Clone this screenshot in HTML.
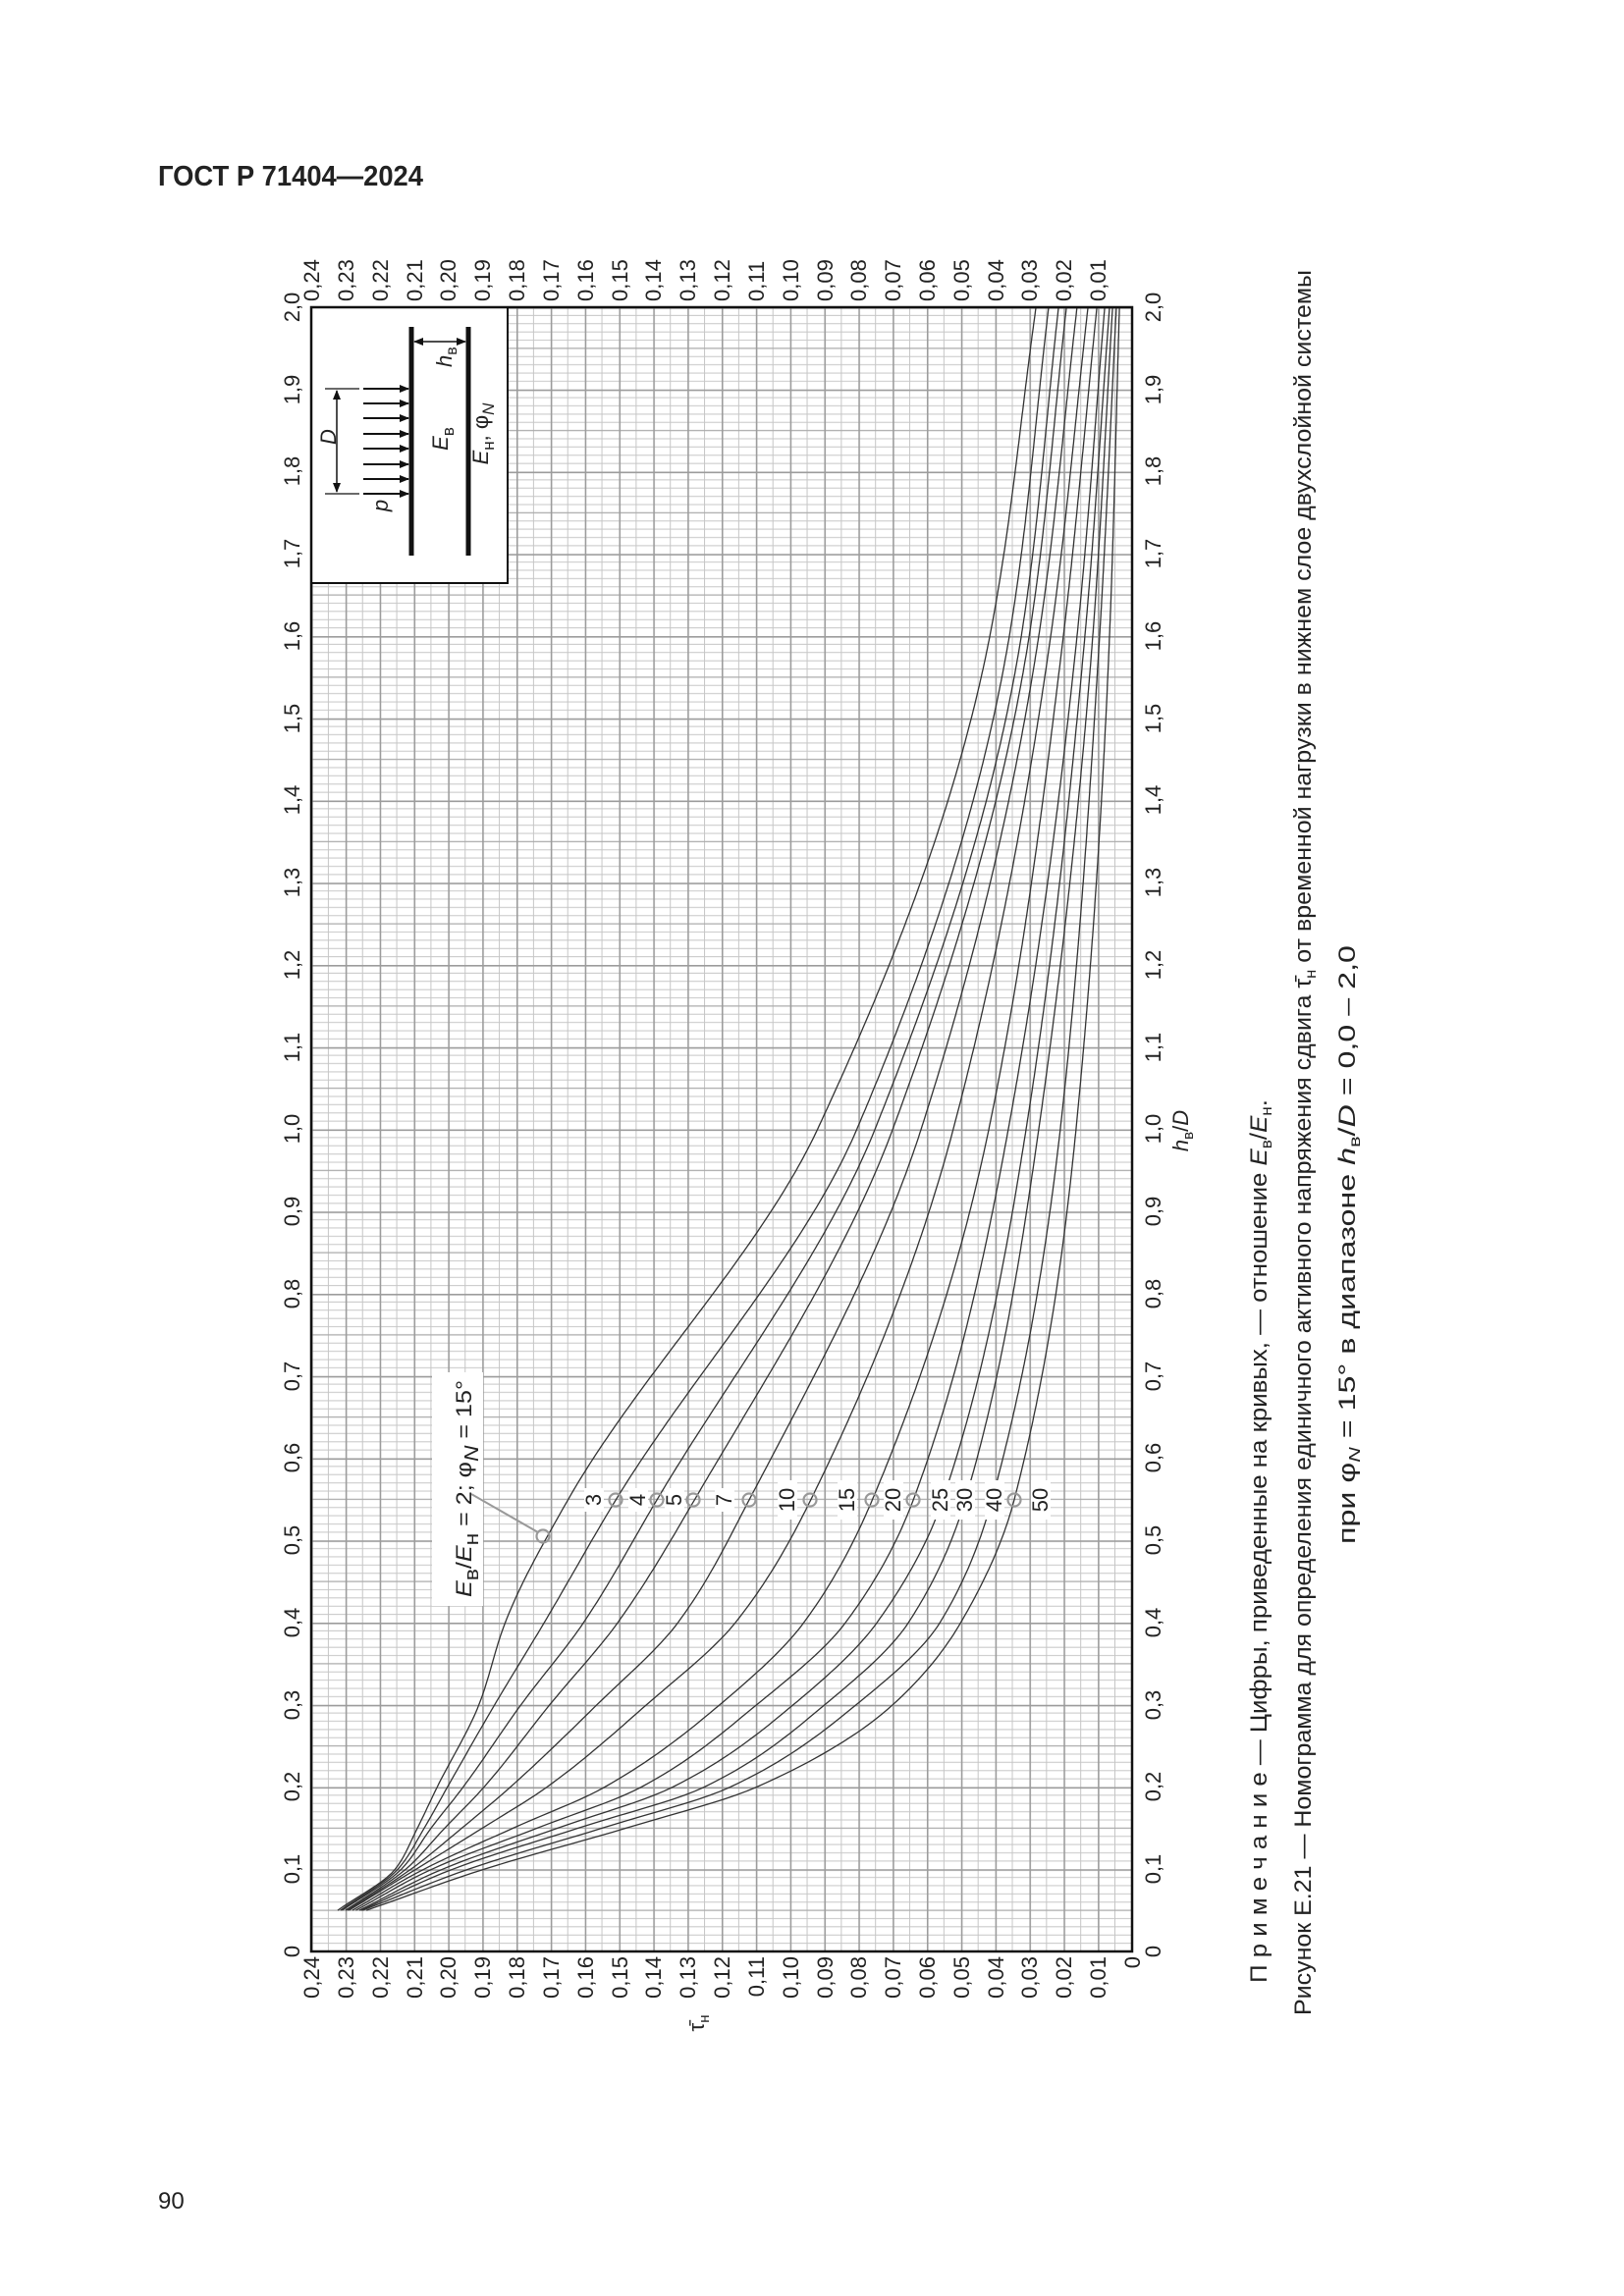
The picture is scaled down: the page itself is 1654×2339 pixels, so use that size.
<!DOCTYPE html>
<html><head><meta charset="utf-8">
<style>
html,body{margin:0;padding:0;background:#fff;}
svg{display:block;}
.t{font-family:"Liberation Sans",sans-serif;font-size:22px;fill:#222;}
.c{font-family:"Liberation Sans",sans-serif;font-size:24px;fill:#222;}
.i{font-style:italic;}
</style></head>
<body>
<svg id="s" width="1654" height="2339" viewBox="0 0 1654 2339" xmlns="http://www.w3.org/2000/svg">
<defs>
<pattern id="g" x="317" y="313" width="34.83" height="83.75" patternUnits="userSpaceOnUse">
<g stroke="#c6c6c6" stroke-width="1">
<line x1="0" y1="8.375" x2="34.83" y2="8.375"/><line x1="0" y1="16.75" x2="34.83" y2="16.75"/>
<line x1="0" y1="25.125" x2="34.83" y2="25.125"/><line x1="0" y1="33.5" x2="34.83" y2="33.5"/>
<line x1="0" y1="50.25" x2="34.83" y2="50.25"/><line x1="0" y1="58.625" x2="34.83" y2="58.625"/>
<line x1="0" y1="67" x2="34.83" y2="67"/><line x1="0" y1="75.375" x2="34.83" y2="75.375"/>
<line x1="17.415" y1="0" x2="17.415" y2="83.75"/>
</g>
<line x1="0" y1="41.875" x2="34.83" y2="41.875" stroke="#ababab" stroke-width="1.3"/>
<line x1="0.8" y1="0" x2="0.8" y2="83.75" stroke="#9c9c9c" stroke-width="1.6"/>
<line x1="0" y1="0.8" x2="34.83" y2="0.8" stroke="#9c9c9c" stroke-width="1.6"/>
</pattern>
<marker id="ah" markerWidth="10" markerHeight="8" refX="9" refY="4" orient="auto" markerUnits="userSpaceOnUse"><path d="M0,0 L10,4 L0,8 z" fill="#111"/></marker>
<marker id="ahs" markerWidth="10" markerHeight="8" refX="1" refY="4" orient="auto" markerUnits="userSpaceOnUse"><path d="M10,0 L0,4 L10,8 z" fill="#111"/></marker>
</defs>

<text x="161" y="189" font-family="Liberation Sans, sans-serif" font-weight="bold" font-size="29" fill="#222" textLength="270" lengthAdjust="spacingAndGlyphs">ГОСТ Р 71404—2024</text>

<rect x="317" y="313" width="836" height="1675" fill="url(#g)"/>
<g id="curves" fill="none" stroke="#333" stroke-width="1.3"></g>

<!-- inset -->
<rect x="317" y="313" width="200" height="281" fill="#fff" stroke="#111" stroke-width="2"/>
<line x1="419" y1="333" x2="419" y2="566" stroke="#111" stroke-width="5"/>
<line x1="477" y1="333" x2="477" y2="566" stroke="#111" stroke-width="5"/>
<line x1="422" y1="348" x2="474" y2="348" stroke="#111" stroke-width="1.5" marker-end="url(#ah)" marker-start="url(#ahs)"/>
<text class="t i" font-size="24" transform="translate(460,374) rotate(-90)">h<tspan font-style="normal" font-size="16" dy="5">в</tspan></text>
<line x1="331" y1="396" x2="366" y2="396" stroke="#111" stroke-width="1.2"/>
<line x1="331" y1="503" x2="366" y2="503" stroke="#111" stroke-width="1.2"/>
<line x1="343" y1="398" x2="343" y2="501" stroke="#111" stroke-width="1.5" marker-end="url(#ah)" marker-start="url(#ahs)"/>
<text class="t i" font-size="26" text-anchor="middle" transform="translate(342,445) rotate(-90)">D</text>
<g stroke="#111" stroke-width="2" marker-end="url(#ah)">
<line x1="370" y1="396" x2="416" y2="396"/><line x1="370" y1="411" x2="416" y2="411"/>
<line x1="370" y1="426" x2="416" y2="426"/><line x1="370" y1="442" x2="416" y2="442"/>
<line x1="370" y1="457" x2="416" y2="457"/><line x1="370" y1="473" x2="416" y2="473"/>
<line x1="370" y1="488" x2="416" y2="488"/><line x1="370" y1="503" x2="416" y2="503"/>
</g>
<text class="t i" font-size="24" text-anchor="middle" transform="translate(395,515) rotate(-90)">p</text>
<text class="t" font-size="26" text-anchor="middle" transform="translate(456,447) rotate(-90)"><tspan class="i">E</tspan><tspan font-size="17" dy="6">в</tspan></text>
<text class="t" font-size="26" text-anchor="middle" transform="translate(497,442) rotate(-90)"><tspan class="i">E</tspan><tspan font-size="17" dy="6">н</tspan><tspan dy="-6">, φ</tspan><tspan class="i" font-size="17" dy="6">N</tspan></text>

<!-- frame -->
<rect x="317" y="313" width="836" height="1675" fill="none" stroke="#111" stroke-width="2.5"/>

<!-- legend -->
<rect x="440" y="1398" width="52" height="238" fill="#fff"/>
<line x1="480" y1="1522" x2="548" y2="1561" stroke="#999" stroke-width="2"/>
<circle cx="553" cy="1565" r="6.5" fill="none" stroke="#999" stroke-width="2.2"/>
<text class="t" font-size="30" transform="translate(480,1627) rotate(-90)" textLength="221" lengthAdjust="spacingAndGlyphs"><tspan class="i">E</tspan><tspan font-size="20" dy="7">в</tspan><tspan dy="-7">/</tspan><tspan class="i">E</tspan><tspan font-size="20" dy="7">н</tspan><tspan dy="-7"> = 2; φ</tspan><tspan class="i" font-size="20" dy="7">N</tspan><tspan dy="-7"> = 15°</tspan></text>

<!-- curve labels -->
<g fill="#fff">
<rect x="595" y="1516" width="20" height="24"/><rect x="640" y="1516" width="20" height="24"/><rect x="677" y="1516" width="20" height="24"/>
<rect x="728" y="1516" width="20" height="24"/><rect x="792" y="1508" width="20" height="40"/><rect x="853" y="1508" width="20" height="40"/>
<rect x="900" y="1508" width="20" height="40"/><rect x="948" y="1508" width="20" height="40"/><rect x="973" y="1508" width="20" height="40"/>
<rect x="1003" y="1508" width="20" height="40"/><rect x="1050" y="1508" width="20" height="40"/>
</g>
<g fill="none" stroke="#999" stroke-width="2.2">
<circle cx="627" cy="1528" r="6.5"/><circle cx="669" cy="1528" r="6.5"/><circle cx="706" cy="1528" r="6.5"/>
<circle cx="763" cy="1528" r="6.5"/><circle cx="825" cy="1528" r="6.5"/><circle cx="888" cy="1528" r="6.5"/>
<circle cx="930" cy="1528" r="6.5"/><circle cx="1033" cy="1528" r="6.5"/>
</g>
<g class="t" font-size="20" text-anchor="middle">
<text transform="translate(612,1528) rotate(-90)">3</text>
<text transform="translate(657,1528) rotate(-90)">4</text>
<text transform="translate(694,1528) rotate(-90)">5</text>
<text transform="translate(745,1528) rotate(-90)">7</text>
<text transform="translate(809,1528) rotate(-90)">10</text>
<text transform="translate(870,1528) rotate(-90)">15</text>
<text transform="translate(917,1528) rotate(-90)">20</text>
<text transform="translate(965,1528) rotate(-90)">25</text>
<text transform="translate(990,1528) rotate(-90)">30</text>
<text transform="translate(1020,1528) rotate(-90)">40</text>
<text transform="translate(1067,1528) rotate(-90)">50</text>
</g>

<!-- top tau labels -->
<g class="t">
<text transform="translate(325,307) rotate(-90)">0,24</text>
<text transform="translate(360,307) rotate(-90)">0,23</text>
<text transform="translate(395,307) rotate(-90)">0,22</text>
<text transform="translate(430,307) rotate(-90)">0,21</text>
<text transform="translate(464,307) rotate(-90)">0,20</text>
<text transform="translate(499,307) rotate(-90)">0,19</text>
<text transform="translate(534,307) rotate(-90)">0,18</text>
<text transform="translate(569,307) rotate(-90)">0,17</text>
<text transform="translate(604,307) rotate(-90)">0,16</text>
<text transform="translate(639,307) rotate(-90)">0,15</text>
<text transform="translate(673,307) rotate(-90)">0,14</text>
<text transform="translate(708,307) rotate(-90)">0,13</text>
<text transform="translate(743,307) rotate(-90)">0,12</text>
<text transform="translate(778,307) rotate(-90)">0,11</text>
<text transform="translate(813,307) rotate(-90)">0,10</text>
<text transform="translate(848,307) rotate(-90)">0,09</text>
<text transform="translate(882,307) rotate(-90)">0,08</text>
<text transform="translate(917,307) rotate(-90)">0,07</text>
<text transform="translate(952,307) rotate(-90)">0,06</text>
<text transform="translate(987,307) rotate(-90)">0,05</text>
<text transform="translate(1022,307) rotate(-90)">0,04</text>
<text transform="translate(1056,307) rotate(-90)">0,03</text>
<text transform="translate(1091,307) rotate(-90)">0,02</text>
<text transform="translate(1126,307) rotate(-90)">0,01</text>
</g>
<!-- bottom tau labels -->
<g class="t" text-anchor="end">
<text transform="translate(325,1993) rotate(-90)">0,24</text>
<text transform="translate(360,1993) rotate(-90)">0,23</text>
<text transform="translate(395,1993) rotate(-90)">0,22</text>
<text transform="translate(430,1993) rotate(-90)">0,21</text>
<text transform="translate(464,1993) rotate(-90)">0,20</text>
<text transform="translate(499,1993) rotate(-90)">0,19</text>
<text transform="translate(534,1993) rotate(-90)">0,18</text>
<text transform="translate(569,1993) rotate(-90)">0,17</text>
<text transform="translate(604,1993) rotate(-90)">0,16</text>
<text transform="translate(639,1993) rotate(-90)">0,15</text>
<text transform="translate(673,1993) rotate(-90)">0,14</text>
<text transform="translate(708,1993) rotate(-90)">0,13</text>
<text transform="translate(743,1993) rotate(-90)">0,12</text>
<text transform="translate(778,1993) rotate(-90)">0,11</text>
<text transform="translate(813,1993) rotate(-90)">0,10</text>
<text transform="translate(848,1993) rotate(-90)">0,09</text>
<text transform="translate(882,1993) rotate(-90)">0,08</text>
<text transform="translate(917,1993) rotate(-90)">0,07</text>
<text transform="translate(952,1993) rotate(-90)">0,06</text>
<text transform="translate(987,1993) rotate(-90)">0,05</text>
<text transform="translate(1022,1993) rotate(-90)">0,04</text>
<text transform="translate(1056,1993) rotate(-90)">0,03</text>
<text transform="translate(1091,1993) rotate(-90)">0,02</text>
<text transform="translate(1126,1993) rotate(-90)">0,01</text>
<text transform="translate(1161,1993) rotate(-90)">0</text>
</g>
<!-- left h labels -->
<g class="t" text-anchor="middle">
<text transform="translate(305,1988) rotate(-90)">0</text>
<text transform="translate(305,1904) rotate(-90)">0,1</text>
<text transform="translate(305,1820) rotate(-90)">0,2</text>
<text transform="translate(305,1737) rotate(-90)">0,3</text>
<text transform="translate(305,1653) rotate(-90)">0,4</text>
<text transform="translate(305,1569) rotate(-90)">0,5</text>
<text transform="translate(305,1485) rotate(-90)">0,6</text>
<text transform="translate(305,1402) rotate(-90)">0,7</text>
<text transform="translate(305,1318) rotate(-90)">0,8</text>
<text transform="translate(305,1234) rotate(-90)">0,9</text>
<text transform="translate(305,1150) rotate(-90)">1,0</text>
<text transform="translate(305,1067) rotate(-90)">1,1</text>
<text transform="translate(305,983) rotate(-90)">1,2</text>
<text transform="translate(305,899) rotate(-90)">1,3</text>
<text transform="translate(305,815) rotate(-90)">1,4</text>
<text transform="translate(305,732) rotate(-90)">1,5</text>
<text transform="translate(305,648) rotate(-90)">1,6</text>
<text transform="translate(305,564) rotate(-90)">1,7</text>
<text transform="translate(305,480) rotate(-90)">1,8</text>
<text transform="translate(305,397) rotate(-90)">1,9</text>
<text transform="translate(305,313) rotate(-90)">2,0</text>
</g>
<!-- right h labels -->
<g class="t" text-anchor="middle">
<text transform="translate(1182,1988) rotate(-90)">0</text>
<text transform="translate(1182,1904) rotate(-90)">0,1</text>
<text transform="translate(1182,1820) rotate(-90)">0,2</text>
<text transform="translate(1182,1737) rotate(-90)">0,3</text>
<text transform="translate(1182,1653) rotate(-90)">0,4</text>
<text transform="translate(1182,1569) rotate(-90)">0,5</text>
<text transform="translate(1182,1485) rotate(-90)">0,6</text>
<text transform="translate(1182,1402) rotate(-90)">0,7</text>
<text transform="translate(1182,1318) rotate(-90)">0,8</text>
<text transform="translate(1182,1234) rotate(-90)">0,9</text>
<text transform="translate(1182,1150) rotate(-90)">1,0</text>
<text transform="translate(1182,1067) rotate(-90)">1,1</text>
<text transform="translate(1182,983) rotate(-90)">1,2</text>
<text transform="translate(1182,899) rotate(-90)">1,3</text>
<text transform="translate(1182,815) rotate(-90)">1,4</text>
<text transform="translate(1182,732) rotate(-90)">1,5</text>
<text transform="translate(1182,648) rotate(-90)">1,6</text>
<text transform="translate(1182,564) rotate(-90)">1,7</text>
<text transform="translate(1182,480) rotate(-90)">1,8</text>
<text transform="translate(1182,397) rotate(-90)">1,9</text>
<text transform="translate(1182,313) rotate(-90)">2,0</text>
</g>
<text class="t" text-anchor="middle" transform="translate(1210,1152) rotate(-90)"><tspan class="i">h</tspan><tspan font-size="15" dy="5">в</tspan><tspan dy="-5">/</tspan><tspan class="i">D</tspan></text>
<text class="t" text-anchor="middle" transform="translate(717,2061) rotate(-90)">τ̄<tspan font-size="15" dy="5">н</tspan></text>

<!-- captions -->
<text class="c" transform="translate(1290,2020) rotate(-90)" textLength="900" lengthAdjust="spacingAndGlyphs">П р и м е ч а н и е — Цифры, приведенные на кривых, — отношение <tspan class="i">E</tspan><tspan font-size="16" dy="5">в</tspan><tspan dy="-5">/</tspan><tspan class="i">E</tspan><tspan font-size="16" dy="5">н</tspan><tspan dy="-5">.</tspan></text>
<text class="c" transform="translate(1335,2053) rotate(-90)" textLength="1778" lengthAdjust="spacingAndGlyphs">Рисунок Е.21 — Номограмма для определения единичного активного напряжения сдвига τ̄<tspan font-size="16" dy="5">н</tspan><tspan dy="-5"> от временной нагрузки в нижнем слое двухслойной системы</tspan></text>
<text class="c" font-size="24" transform="translate(1380,1573) rotate(-90)" textLength="610" lengthAdjust="spacingAndGlyphs">при φ<tspan class="i" font-size="16" dy="5">N</tspan><tspan dy="-5"> = 15° в диапазоне </tspan><tspan class="i">h</tspan><tspan font-size="16" dy="5">в</tspan><tspan dy="-5">/</tspan><tspan class="i">D</tspan> = 0,0 – 2,0</text>

<text x="161" y="2250" font-family="Liberation Sans, sans-serif" font-size="24" fill="#222">90</text>
</svg>
<script>
(function(){
var H=[0.05,0.1,0.15,0.2,0.3,0.4,0.549,1.0,1.6,2.0];
var C=[
[0.2323,0.2155,0.209,0.2032,0.191,0.1833,0.165,0.092,0.0416,0.0281],
[0.2315,0.2147,0.207,0.2002,0.1864,0.1719,0.151,0.0805,0.0359,0.0244],
[0.231,0.2137,0.205,0.1956,0.1787,0.1604,0.139,0.0752,0.0324,0.0215],
[0.230,0.2124,0.201,0.1895,0.1703,0.1504,0.128,0.070,0.0301,0.0192],
[0.2295,0.2109,0.196,0.1818,0.1565,0.1328,0.112,0.0617,0.0273,0.0161],
[0.229,0.2094,0.190,0.1711,0.142,0.116,0.094,0.0523,0.0238,0.0129],
[0.228,0.2071,0.181,0.1542,0.1206,0.096,0.076,0.0419,0.0201,0.0103],
[0.227,0.2048,0.174,0.1435,0.1098,0.0838,0.064,0.0362,0.0161,0.0080],
[0.226,0.2017,0.168,0.1343,0.0991,0.0746,0.0554,0.031,0.0138,0.0066],
[0.2255,0.1987,0.162,0.1251,0.0899,0.0654,0.0488,0.0273,0.0115,0.0057],
[0.225,0.1941,0.155,0.1175,0.0807,0.0562,0.041,0.021,0.0095,0.0046],
[0.2239,0.1895,0.148,0.1098,0.070,0.0501,0.0345,0.0164,0.0066,0.0037]];
function X(t){return 1153-3483*t;} function Y(h){return 1988-837.5*h;}
var g=document.getElementById('curves'),n=H.length;
C.forEach(function(y){
 var d=[],hk=[],m=[],i;
 for(i=0;i<n-1;i++){hk[i]=H[i+1]-H[i];d[i]=(y[i+1]-y[i])/hk[i];}
 m[0]=d[0];m[n-1]=d[n-2];
 for(i=1;i<n-1;i++){ if(d[i-1]*d[i]<=0){m[i]=0;} else {var w1=2*hk[i]+hk[i-1],w2=hk[i]+2*hk[i-1];m[i]=(w1+w2)/(w1/d[i-1]+w2/d[i]);}}
 var p='';
 for(var h=0.05;h<=2.0001;h+=0.005){
  var k=0; while(k<n-2&&h>H[k+1])k++;
  var s=(h-H[k])/hk[k],s2=s*s,s3=s2*s;
  var v=(2*s3-3*s2+1)*y[k]+(s3-2*s2+s)*hk[k]*m[k]+(-2*s3+3*s2)*y[k+1]+(s3-s2)*hk[k]*m[k+1];
  p+=(p?'L':'M')+X(v).toFixed(1)+','+Y(h).toFixed(1);
 }
 var e=document.createElementNS('http://www.w3.org/2000/svg','path');e.setAttribute('d',p);g.appendChild(e);
});
})();
</script>
</body></html>
